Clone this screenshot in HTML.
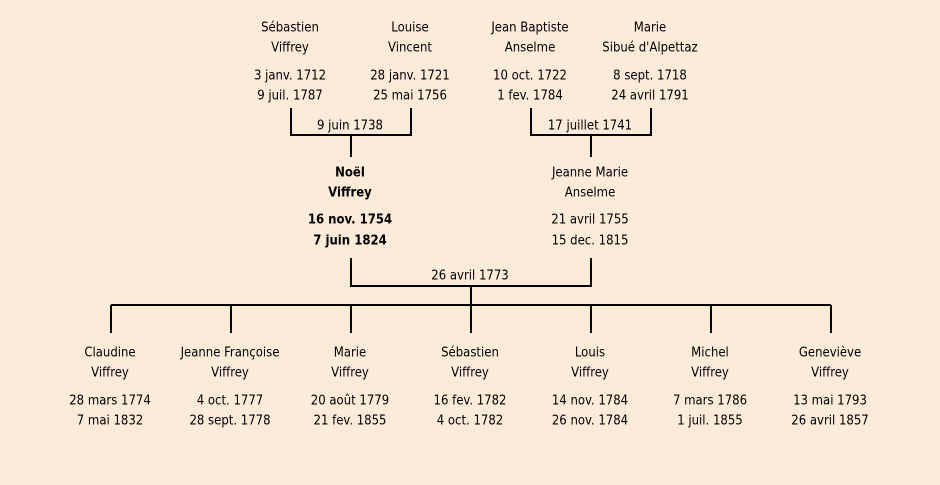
<!DOCTYPE html>
<html><head><meta charset="utf-8"><style>
html,body{margin:0;padding:0;background:#fcebd8;}
svg{display:block}
text{font-family:"Comic Sans MS","DejaVu Sans Condensed","Liberation Sans",sans-serif;font-size:13px;fill:#000;text-anchor:middle;dominant-baseline:central}
.b{font-weight:bold}
</style></head><body>
<svg width="940" height="485" viewBox="0 0 940 485">
<rect width="940" height="485" fill="#fcebd8"/>
<g stroke="#000" stroke-width="2" fill="none">
<path d="M291 108V135H411V108M351 135V157"/>
<path d="M531 108V135H651V108M591 135V157"/>
<path d="M351 258V286H591V258M471 286V305"/>
<path d="M111 305H831"/>
<path d="M111 305V333M231 305V333M351 305V333M471 305V333M591 305V333M711 305V333M831 305V333"/>
</g>
<g transform="translate(0,1)">
<text x="290" y="27">Sébastien</text><text x="290" y="47">Viffrey</text>
<text x="290" y="75">3 janv. 1712</text><text x="290" y="95">9 juil. 1787</text>
<text x="410" y="27">Louise</text><text x="410" y="47">Vincent</text>
<text x="410" y="75">28 janv. 1721</text><text x="410" y="95">25 mai 1756</text>
<text x="530" y="27">Jean Baptiste</text><text x="530" y="47">Anselme</text>
<text x="530" y="75">10 oct. 1722</text><text x="530" y="95">1 fev. 1784</text>
<text x="650" y="27">Marie</text><text x="650" y="47">Sibué d'Alpettaz</text>
<text x="650" y="75">8 sept. 1718</text><text x="650" y="95">24 avril 1791</text>
<text x="350" y="125">9 juin 1738</text>
<text x="590" y="125">17 juillet 1741</text>
<text class="b" x="350" y="172">Noël</text><text class="b" x="350" y="192">Viffrey</text>
<text class="b" x="350" y="219">16 nov. 1754</text><text class="b" x="350" y="240">7 juin 1824</text>
<text x="590" y="172">Jeanne Marie</text><text x="590" y="192">Anselme</text>
<text x="590" y="219">21 avril 1755</text><text x="590" y="240">15 dec. 1815</text>
<text x="470" y="275">26 avril 1773</text>
<text x="110" y="352">Claudine</text><text x="110" y="372">Viffrey</text><text x="110" y="400">28 mars 1774</text><text x="110" y="420">7 mai 1832</text>
<text x="230" y="352">Jeanne Françoise</text><text x="230" y="372">Viffrey</text><text x="230" y="400">4 oct. 1777</text><text x="230" y="420">28 sept. 1778</text>
<text x="350" y="352">Marie</text><text x="350" y="372">Viffrey</text><text x="350" y="400">20 août 1779</text><text x="350" y="420">21 fev. 1855</text>
<text x="470" y="352">Sébastien</text><text x="470" y="372">Viffrey</text><text x="470" y="400">16 fev. 1782</text><text x="470" y="420">4 oct. 1782</text>
<text x="590" y="352">Louis</text><text x="590" y="372">Viffrey</text><text x="590" y="400">14 nov. 1784</text><text x="590" y="420">26 nov. 1784</text>
<text x="710" y="352">Michel</text><text x="710" y="372">Viffrey</text><text x="710" y="400">7 mars 1786</text><text x="710" y="420">1 juil. 1855</text>
<text x="830" y="352">Geneviève</text><text x="830" y="372">Viffrey</text><text x="830" y="400">13 mai 1793</text><text x="830" y="420">26 avril 1857</text>
</g>
</svg>
</body></html>
